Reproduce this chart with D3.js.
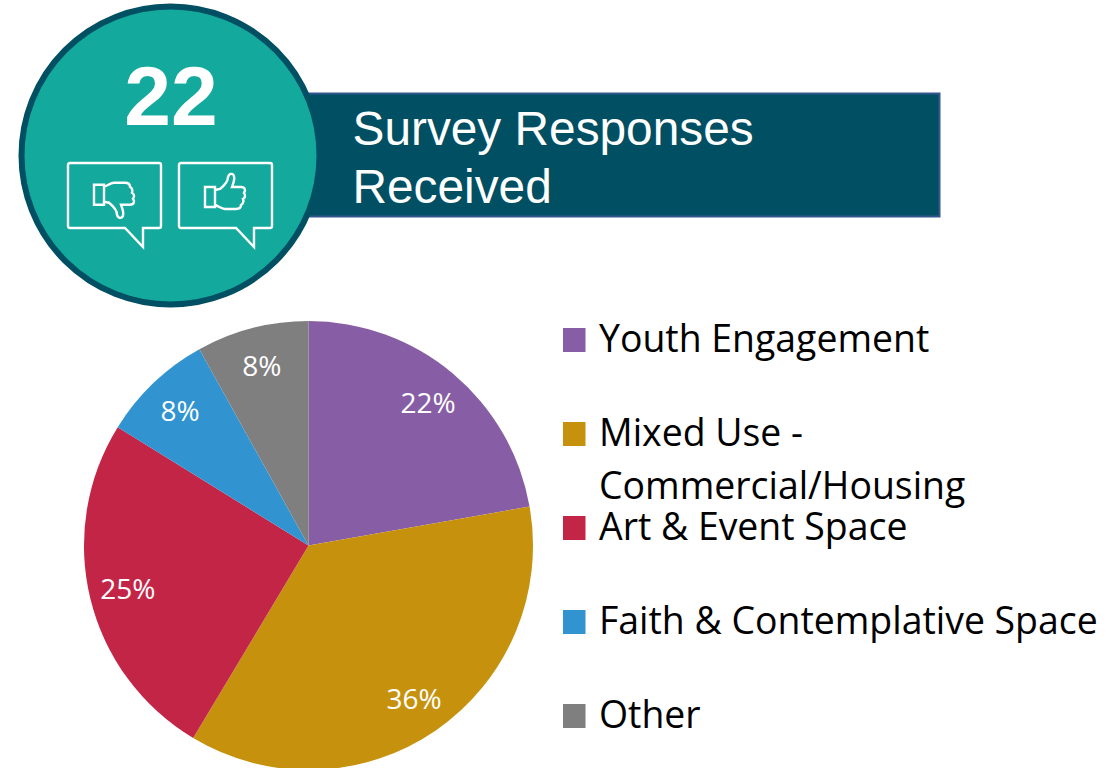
<!DOCTYPE html>
<html>
<head>
<meta charset="utf-8">
<script src="https://cdn.jsdelivr.net/npm/d3@7"></script>
<style>
  html, body { margin: 0; padding: 0; background: #fff; }
  svg { display: block; }
</style>
</head>
<body>
<svg id="chart" width="1117" height="768"></svg>
<script>
// Survey headline and pie of preferred uses.
const responseCount = "22";
const headlineLines = ["Survey Responses", "Received"];

const categories = ["Youth Engagement", "Mixed Use - Commercial/Housing", "Art & Event Space", "Faith & Contemplative Space", "Other"];
const shares = [22, 36, 25, 8, 8];
const sliceColors = ["#875EA5", "#C6920E", "#C32547", "#3194D1", "#7F7F7F"];
const legendLines = [["Youth Engagement"], ["Mixed Use -", "Commercial/Housing"], ["Art & Event Space"], ["Faith & Contemplative Space"], ["Other"]];

const svg = d3.select("#chart");
const teal = "#14A99D", navy = "#004F63";
const bodyFont = "'Open Sans', Lato, sans-serif";
const headFont = "'Liberation Sans', Arial, sans-serif";

// Headline banner, sitting behind the badge
svg.append("rect")
  .attr("x", 290).attr("y", 93.5).attr("width", 649.5).attr("height", 123)
  .attr("fill", navy).attr("stroke", "#34568F").attr("stroke-width", 2);

svg.selectAll("text.headline").data(headlineLines).join("text")
  .attr("class", "headline")
  .attr("x", 352.5).attr("y", (d, i) => 145 + i * 58)
  .attr("font-family", headFont).attr("font-size", 47.8)
  .attr("fill", "#fff").text(d => d);

// Badge with the response count
svg.append("circle")
  .attr("cx", 170.5).attr("cy", 155.5).attr("r", 149)
  .attr("fill", teal).attr("stroke", navy).attr("stroke-width", 6);

svg.append("text")
  .attr("x", 171).attr("y", 125).attr("text-anchor", "middle")
  .attr("font-family", headFont).attr("font-weight", 700).attr("font-size", 84)
  .attr("fill", "#fff").text(responseCount);

// Speech bubbles holding the thumb icons
const bubblePath = "M2,0 H91 Q93,0 93,2 V63 Q93,65 91,65 H75 V84 L57,65 H2 Q0,65 0,63 V2 Q0,0 2,0 Z";
const thumbCuff = "M26,24 H36 V44 H26 Z";
const thumbHand = "M36,27 L41,26 C46,22 49,17 49,14 C50,10 54,10 55,13 C56,17 54,21 53,24 L62,24 C66,24 67,27 65,30 C67,32 66,35 64,36 C65,38 64,41 62,42 C62,45 60,46 57,46 L46,46 C42,46 40,43 36,42";
const bubbles = [{ x: 68, down: true }, { x: 179, down: false }];

const bubbleGroups = svg.selectAll("g.bubble").data(bubbles).join("g")
  .attr("class", "bubble")
  .attr("transform", d => `translate(${d.x},163)`)
  .attr("fill", "none").attr("stroke", "#fff").attr("stroke-width", 2.4);
bubbleGroups.append("path").attr("d", bubblePath);
const thumbs = bubbleGroups.append("g")
  .attr("transform", d => d.down ? "translate(0,65.7) scale(1,-1)" : null);
thumbs.append("path").attr("d", thumbCuff);
thumbs.append("path").attr("d", thumbHand);

// Pie, clockwise from twelve o'clock
const cx = 308.5, cy = 545.5, radius = 224.5, labelRadius = 186;
const pie = d3.pie().sort(null).value(d => d);
const arc = d3.arc().innerRadius(0).outerRadius(radius);
const labelArc = d3.arc().innerRadius(labelRadius).outerRadius(labelRadius);
const pieGroup = svg.append("g").attr("transform", `translate(${cx},${cy})`);
const slices = pie(shares);

pieGroup.selectAll("path").data(slices).join("path")
  .attr("d", arc)
  .attr("fill", (d, i) => sliceColors[i]);

pieGroup.selectAll("text").data(slices).join("text")
  .attr("transform", d => `translate(${labelArc.centroid(d)})`)
  .attr("text-anchor", "middle").attr("dy", "0.36em")
  .attr("font-family", bodyFont).attr("font-size", 28)
  .attr("fill", "#fff").text(d => `${d.data}%`);

// Legend
const legendY = d3.scalePoint().domain(categories).range([340, 716]);
const legend = svg.selectAll("g.legend").data(categories).join("g")
  .attr("class", "legend")
  .attr("transform", d => `translate(563,${legendY(d)})`);
legend.append("rect")
  .attr("x", 0).attr("y", -12).attr("width", 22.5).attr("height", 24)
  .attr("fill", (d, i) => sliceColors[i]);
legend.each(function (d, i) {
  d3.select(this).selectAll("text").data(legendLines[i]).join("text")
    .attr("x", 36).attr("y", (t, j) => 12 + j * 53)
    .attr("font-family", bodyFont).attr("font-size", 37.4)
    .attr("fill", "#000").text(t => t);
});
</script>
</body>
</html>
